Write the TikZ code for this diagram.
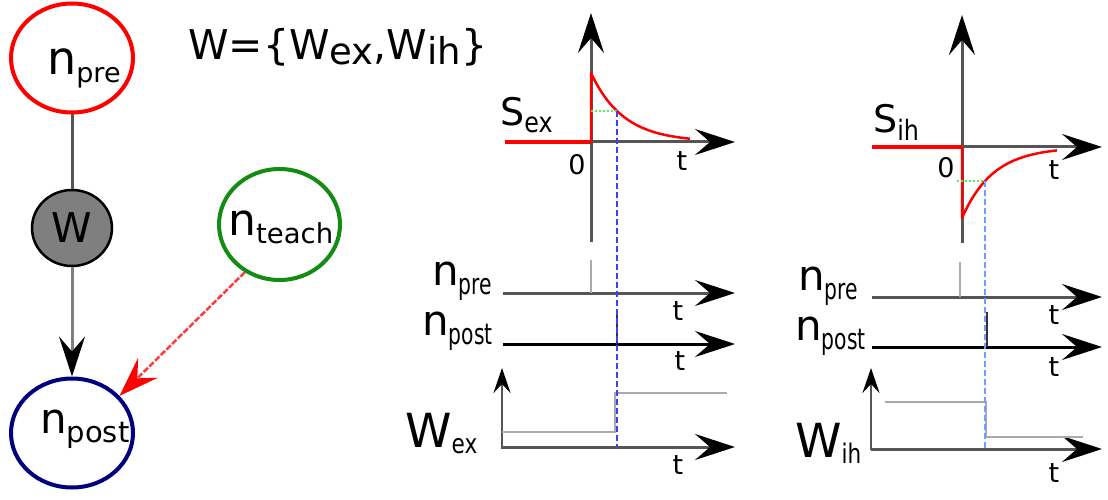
\documentclass[tikz,border=0pt]{standalone}
\usepackage{fontspec}
\setmainfont{DejaVu Sans}
\usepackage{graphicx}
\usetikzlibrary{arrows.meta,shapes.geometric}
\definecolor{cred}{HTML}{FF0000}
\definecolor{cgreen}{HTML}{128C12}
\definecolor{cnavy}{HTML}{000080}
\definecolor{caxis}{HTML}{555555}
\definecolor{cstep}{HTML}{AAAAAA}
\definecolor{cwfill}{HTML}{7F7F7F}
\definecolor{cblue}{HTML}{3344FF}
\definecolor{clblue}{HTML}{6FA0FF}
\definecolor{cgreendot}{HTML}{55EE55}
\definecolor{cdash}{HTML}{FF3B3B}
\newcommand{\fs}[1]{\fontsize{#1}{#1}\selectfont}
% main size, sub size, main text, sub text, lowering, horizontal squeeze
\newcommand{\lbl}[6]{{\fs{#1}#3}\raisebox{#5}{\fs{#2}\scalebox{#6}[1]{#4}}}
\tikzset{
  neuron/.style={ellipse, draw, line width=4pt, inner sep=0pt},
  bigtip/.style={-{Stealth[length=40pt,width=26pt,inset=15pt,black]}},
  axisline/.style={draw=caxis, line width=3pt, bigtip},
  smallaxis/.style={draw=caxis, line width=2.5pt, -{Stealth[length=25pt,width=17pt,inset=9pt,black]}},
  stepline/.style={draw=cstep, line width=2.5pt},
  redcurve/.style={draw=cred, line width=2.5pt, line join=round},
  txt/.style={inner sep=0pt, font=\fs{27}},
  lab/.style={inner sep=0pt, anchor=base west}
}
\begin{document}
\begin{tikzpicture}[x=1pt,y=-1pt]
\useasboundingbox (0,0) rectangle (1108,500);

% ---------- graph ----------
\node[neuron, draw=cred, minimum width=122pt, minimum height=109pt] (npre) at (72,58) {};
\node[ellipse, draw=black, fill=cwfill, line width=2.5pt, minimum width=80pt, minimum height=76pt, inner sep=0pt, font=\fs{41}] (wn) at (72,228) {W};
\node[neuron, draw=cgreen, minimum width=121pt, minimum height=111pt] (nteach) at (279.5,224.5) {};
\node[neuron, draw=cnavy, minimum width=122pt, minimum height=109pt] (npost) at (72,433) {};

\node[lab] (tpre) at (47,75) {\lbl{46}{27}{n}{pre}{-8pt}{1}};
\node[lab] (tteach) at (228,235) {\lbl{44}{27.5}{n}{teach}{-8pt}{1}};
\node[lab] (tpost) at (40,433) {\lbl{42}{29}{n}{post}{-9pt}{1}};

\draw[draw=caxis, line width=3pt] (npre) -- (wn);
\draw[draw=gray, line width=3pt, bigtip] (wn) -- (npost);
\draw[draw=cdash, line width=2.5pt, dash pattern=on 6pt off 2pt,
      -{Stealth[length=40pt,width=28pt,inset=15pt,cred]}] (nteach.234) -- (npost.38);

\node[lab] (wset) at (188,60) {{\fs{41}W=\{W}\raisebox{-5pt}{\fs{37}ex}{\fs{41},W}\raisebox{-5pt}{\fs{37}ih}{\fs{41}\}}};

% ---------- excitatory ----------
\draw[axisline] (505,142) -- (735,142);
\draw[axisline] (591,242) -- (591,13);
\draw[draw=cred, line width=4pt] (505,142) -- (591,142);
\draw[redcurve] (591,142) -- (591,73) -- plot[domain=591:690, samples=60] (\x,{142-69*exp(-(\x-591)/32.5)});
\draw[cgreendot, line width=2pt, dotted] (591,111) -- (617,111);

\draw[axisline] (503,293) -- (735,293);
\draw[stepline] (591,293) -- (591,260);
\draw[axisline, draw=black] (503,344) -- (735,344);
\draw[draw=black!80, line width=2.5pt] (617,344) -- (617,310);
\draw[smallaxis] (502,449) -- (502,368);
\draw[axisline] (502,447) -- (735,447);
\draw[stepline] (502,432) -- (615,432) -- (615,393) -- (727,393);
\draw[cblue, line width=2.5pt, dash pattern=on 6pt off 3pt] (617,111) -- (617,447);

\node[lab] (sex) at (500,125) {\lbl{38}{28}{S}{ex}{-7pt}{0.85}};
\node[txt] (z1) at (577,165) {0};
\node[txt] (t1) at (682,161) {t};
\node[txt] (t2) at (678,311) {t};
\node[txt] (t3) at (680,361) {t};
\node[txt] (t4) at (678,465) {t};
\node[lab] (l1) at (432,285) {\lbl{42}{29}{n}{pre}{-9pt}{0.7}};
\node[lab] (l2) at (422,335) {\lbl{42}{29}{n}{post}{-9pt}{0.7}};
\node[lab] (l3) at (405,447) {\lbl{47}{27}{W}{ex}{-6pt}{0.8}};

% ---------- inhibitory ----------
\draw[axisline] (872,147) -- (1102,147);
\draw[axisline] (962,243) -- (962,15);
\draw[draw=cred, line width=4pt] (872,147) -- (962,147);
\draw[redcurve] (962,147) -- (962,218) -- plot[domain=962:1057, samples=60] (\x,{147+71*exp(-(\x-962)/31.3)});
\draw[cgreendot, line width=2pt, dotted] (957,181) -- (985,181);

\draw[axisline] (872,297) -- (1102,297);
\draw[stepline] (960,297) -- (960,262);
\draw[axisline, draw=black] (872,347) -- (1102,347);
\draw[draw=black!80, line width=2.5pt] (987,347) -- (987,312);
\draw[smallaxis] (871,450) -- (871,368);
\draw[axisline] (871,449) -- (1102,449);
\draw[stepline] (885,402) -- (986,402) -- (986,437) -- (1083,437);
\draw[clblue, line width=1.8pt, dash pattern=on 6pt off 3pt] (985,181) -- (985,449);

\node[lab] (sih) at (873,133) {\lbl{38}{28}{S}{ih}{-7pt}{0.85}};
\node[txt] (z2) at (946,168) {0};
\node[txt] (t5) at (1054,170) {t};
\node[txt] (t6) at (1054,315) {t};
\node[txt] (t7) at (1054,367) {t};
\node[txt] (t8) at (1054,473) {t};
\node[lab] (r1) at (798,290) {\lbl{42}{29}{n}{pre}{-9pt}{0.7}};
\node[lab] (r2) at (795,340) {\lbl{42}{29}{n}{post}{-9pt}{0.7}};
\node[lab] (r3) at (795,457) {\lbl{47}{27}{W}{ih}{-6pt}{0.8}};
\end{tikzpicture}
\end{document}
